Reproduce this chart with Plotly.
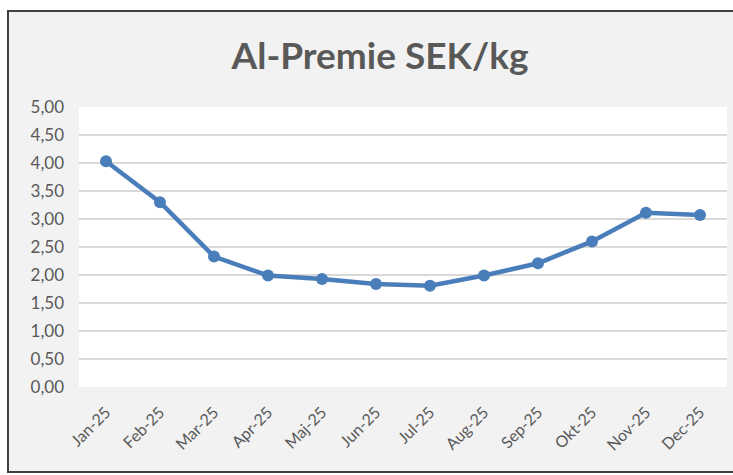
import plotly.graph_objects as go

months = ["Jan-25", "Feb-25", "Mar-25", "Apr-25", "Maj-25", "Jun-25",
          "Jul-25", "Aug-25", "Sep-25", "Okt-25", "Nov-25", "Dec-25"]
premium = [4.03, 3.30, 2.33, 1.99, 1.93, 1.84, 1.81, 1.99, 2.21, 2.60, 3.11, 3.07]
y_ticks = [0, 0.5, 1, 1.5, 2, 2.5, 3, 3.5, 4, 4.5, 5]
y_labels = ["0,00", "0,50", "1,00", "1,50", "2,00", "2,50", "3,00", "3,50", "4,00", "4,50", "5,00"]

W, H = 733, 475
L, R, T, B = 79, 6, 107, 88
pw, ph = W - L - R, H - T - B

def px_x(x):
    return (x - L) / pw

def px_y(y):
    return (H - B - y) / ph

fig = go.Figure()
fig.add_trace(go.Scatter(
    x=months, y=premium, mode="lines+markers",
    line=dict(color="#4a7ebb", width=4.5),
    marker=dict(color="#4a7ebb", size=12),
    showlegend=False,
))

fig.update_layout(
    width=W, height=H,
    margin=dict(l=L, r=R, t=T, b=B),
    paper_bgcolor="white",
    plot_bgcolor="white",
    font=dict(family="Lato", color="#595959"),
    title=dict(text="<b>Al-Premie SEK/kg</b>", x=380 / W, xanchor="center",
               y=1 - 56 / H, yanchor="middle",
               font=dict(size=37, color="#595959", family="Lato")),
    shapes=[
        dict(type="rect", xref="paper", yref="paper", layer="below",
             x0=px_x(8), x1=px_x(760), y0=px_y(472), y1=px_y(11),
             fillcolor="#f2f2f2", line=dict(color="#404040", width=2)),
        dict(type="rect", xref="paper", yref="paper", layer="below",
             x0=0, x1=1, y0=0, y1=1, fillcolor="white", line=dict(width=0)),
    ],
)
fig.update_xaxes(type="category", range=[-0.5, 11.5], tickangle=-45,
                 tickfont=dict(size=16, color="#595959"), showgrid=False,
                 showline=False, zeroline=False, ticks="", ticklabelstandoff=12)
fig.update_yaxes(range=[0, 5], tickvals=y_ticks, ticktext=y_labels,
                 tickfont=dict(size=17, color="#595959"),
                 showgrid=True, gridcolor="#d9d9d9", gridwidth=1.5,
                 zeroline=False, showline=False, ticks="", ticklabelstandoff=14)

fig.write_html("out.html", config={"displayModeBar": False},
               post_script="document.body.style.margin='0';document.body.style.overflow='hidden';")
